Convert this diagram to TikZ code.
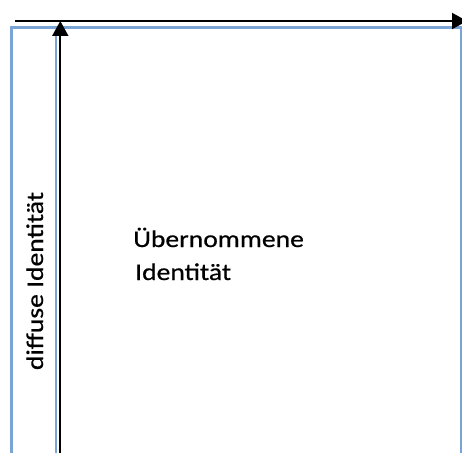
\documentclass[tikz,border=0pt]{standalone}
\usepackage{fontspec}
\setmainfont{Carlito}[FakeStretch=1.15,FakeBold=0.6]
\usetikzlibrary{arrows.meta}
\definecolor{frameblue}{RGB}{122,163,214}
\begin{document}
\begin{tikzpicture}[x=1pt,y=1pt,
  axis/.style={black,line width=2pt,-{Triangle[width=16pt,length=15pt]}},
  frame/.style={frameblue,line width=3pt},
  label/.style={inner sep=0pt,font=\fontsize{24}{33}\selectfont}]
  \useasboundingbox (0,0) rectangle (462,-452);
  \clip (0,0) rectangle (462,-452);
  % blue outline and inner divider
  \draw[frame] (11.5,-470) -- (11.5,-27.6) -- (461.5,-27.6) -- (461.5,-470);
  \draw[frame,line width=2.4pt] (56.2,-470) -- (56.2,-30);
  % axes
  \coordinate (xs) at (15,-21);
  \coordinate (xe) at (467,-21);
  \coordinate (ys) at (60.3,-470);
  \coordinate (ye) at (60.3,-21);
  \draw[axis] (xs) -- (xe);
  \draw[axis] (ys) -- (ye);
  % labels
  \node[label,rotate=90,anchor=base] (diff) at (43,-281) {diffuse Identität};
  \node[label,anchor=base west,align=left] (uebern) at (133,-280)
    {Übernommene\\[0pt]\hspace{2pt}Identität};
\end{tikzpicture}
\end{document}
